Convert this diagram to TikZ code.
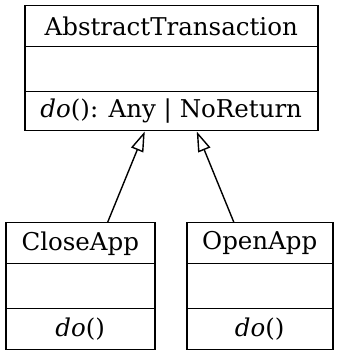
\documentclass[tikz,border=0pt]{standalone}
\usepackage{fontspec}
\setmainfont{DejaVu Serif}
\usetikzlibrary{arrows.meta}
\begin{document}
\begin{tikzpicture}[x=1pt,y=1pt,
  part/.style={draw, line width=1.5pt, rectangle, inner sep=0pt, anchor=north west,
    font=\fontsize{24.5}{29}\selectfont},
  inherit/.style={draw, line width=1.4pt,
    -{Triangle[open, length=20pt, width=13pt, line width=1.4pt]}}]
\useasboundingbox (0,0) rectangle (341,359);
% base class
\node[part, minimum width=293pt, minimum height=41pt] (at-name) at (24,354) {AbstractTransaction};
\node[part, minimum width=293pt, minimum height=45pt] (at-attr) at (24,313) {};
\node[part, minimum width=293pt, minimum height=39pt] (at-meth) at (24,268) {\textit{do}(): Any | NoReturn};
% subclasses
\node[part, minimum width=149pt, minimum height=41pt] (close-name) at (5,137) {CloseApp};
\node[part, minimum width=149pt, minimum height=45pt] (close-attr) at (5,96) {};
\node[part, minimum width=149pt, minimum height=41pt] (close-meth) at (5,51) {\textit{do}()};
\node[part, minimum width=146pt, minimum height=41pt] (open-name) at (186,137) {OpenApp};
\node[part, minimum width=146pt, minimum height=45pt] (open-attr) at (186,96) {};
\node[part, minimum width=146pt, minimum height=41pt] (open-meth) at (186,51) {\textit{do}()};
% generalisation arrows
\draw[inherit] ([xshift=27.5pt]close-name.north) -- ([xshift=-26.5pt]at-meth.south);
\draw[inherit] ([xshift=-26pt]open-name.north) -- ([xshift=25.5pt]at-meth.south);
\end{tikzpicture}
\end{document}
